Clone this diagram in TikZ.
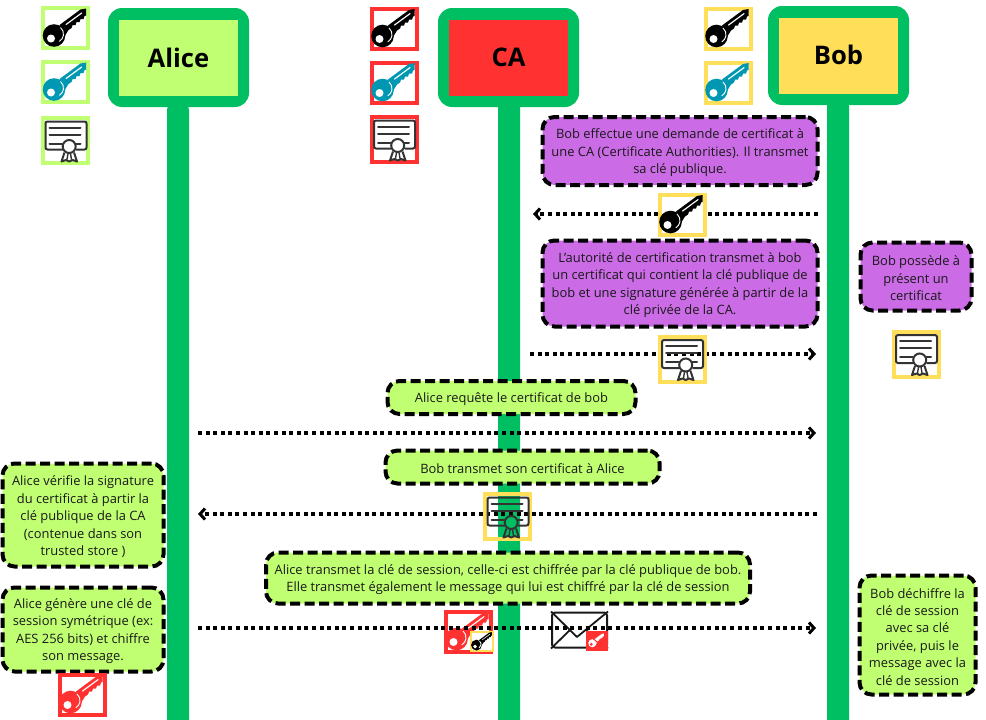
\documentclass[tikz,border=0pt]{standalone}
\usepackage{fontspec}
\setmainfont{Open Sans}
\usetikzlibrary{arrows.meta}
\definecolor{lgreen}{HTML}{00BF63}
\definecolor{lime}{HTML}{C1FF72}
\definecolor{cred}{HTML}{FF3131}
\definecolor{cyellow}{HTML}{FFDE59}
\definecolor{cpurple}{HTML}{CB6CE6}
\definecolor{cteal}{HTML}{0097B2}
\definecolor{cdark}{HTML}{333333}
\tikzset{
  lifeline/.style={draw=none,fill=lgreen,rounded corners=6pt},
  header/.style={font=\fontsize{25.6}{30}\selectfont\bfseries,inner sep=0pt,minimum width=119pt,minimum height=76pt},
  frame/.style={fill=lgreen,rounded corners=14pt},
  msg/.style={draw=black,fill=#1,line width=4pt,dash pattern=on 10pt off 4.5pt,rounded corners=12pt,inner sep=0pt},
  msgtext/.style={align=center,inner sep=0pt,text=black!90,yshift=-1.8pt,font=\fontsize{12.9}{17.4}\selectfont},
  flow/.style={line width=4pt,dash pattern=on 4pt off 3.6pt,-{Straight Barb[length=5pt,width=11pt,line width=3pt]}},
  iconbox/.style={draw=#1,line width=4pt,minimum width=45pt,minimum height=40pt,inner sep=0pt},
  pics/keyglyph/.style={code={
    \begin{scope}
    \clip (-23,-23) rectangle (23,18.6);
    \fill[#1] (-6,-3) -- (15,-18.5) -- (20.7,-19.5) -- (20.7,-12.5) -- (19,-12) -- (18,-9) -- (15,-9) -- (14,-6) -- (11,-6) -- (10,-3) -- (7,-3) -- (6,0) -- (3,2) -- (-2,10) -- cycle;
    \fill[white] (0,-3.8) -- (16,-15.6) -- (16.6,-14.6) -- (0.6,-2.8) -- cycle;
    \fill[#1] (-11.5,7.5) circle (11.3);
    \draw[white,line width=0.9pt] (-5,-0.5) arc (-50:60:8.5);
    \fill[white] (-14.5,10.5) circle (4);
    \end{scope}
  }},
  pics/certglyph/.style={code={
    \draw[cdark,line width=2pt,line cap=round,rounded corners=2pt] (-3,9) -- (-20,9) -- (-20,-19) -- (21,-19) -- (21,9) -- (11,9);
    \draw[cdark,line width=2pt,line cap=round] (-16,-13) -- (15,-13) (-16,-6) -- (15,-6) (-16,3) -- (-3.5,3) (10.5,3) -- (15,3);
    \draw[cdark,line width=2pt] (3.7,6) circle (6.5);
    \draw[cdark,line width=2pt,line join=round] (-1,12) -- (-4,21) -- (0.5,19.5) -- (3.7,21) -- (7,19.5) -- (11.5,21) -- (8.5,12);
    \draw[cdark,line width=1.4pt] (2.5,13) -- (1.5,19) (5,13) -- (6,19);
  }},
}
\begin{document}
\begin{tikzpicture}[x=1pt,y=-1pt]
\useasboundingbox (0,0) rectangle (986,720);
% lifelines
\fill[lifeline] (167,104) rectangle (189,740);
\fill[lifeline] (498,100) rectangle (520,740);
\fill[lifeline] (827,100) rectangle (849,740);
% headers
\fill[frame] (108,8) rectangle (249,107);
\fill[frame] (438,8) rectangle (579,107);
\fill[frame] (768,6) rectangle (909,105);
\node[header,fill=lime] (alice) at (178.5,57.5) {Alice};
\node[header,fill=cred] (ca) at (508.5,57.5) {CA};
\node[header,fill=cyellow] (bob) at (838.5,55.5) {\raisebox{1.5pt}{Bob}};
% messages
\node[msg=cpurple,minimum width=275pt,minimum height=68pt] (m1) at (680,151) {};
\node[msgtext] (t1) at (m1.center) {Bob effectue une demande de certificat à\\une CA (Certificate Authorities). Il transmet\\sa clé publique.};
\node[msg=cpurple,minimum width=275pt,minimum height=86pt] (m2) at (680,283.5) {};
\node[msgtext] (t2) at (m2.center) {L’autorité de certification transmet à bob\\un certificat qui contient la clé publique de\\bob et une signature générée à partir de la\\clé privée de la CA.};
\node[msg=cpurple,minimum width=111pt,minimum height=68pt] (m3) at (916,276.5) {};
\node[msgtext] (t3) at (m3.center) {Bob possède à\\présent un\\certificat};
\node[msg=lime,minimum width=248pt,minimum height=33pt] (m4) at (511.5,397.5) {};
\node[msgtext] (t4) at (m4.center) {Alice requête le certificat de bob};
\node[msg=lime,minimum width=274pt,minimum height=33pt] (m5) at (522.5,467) {};
\node[msgtext] (t5) at (m5.center) {Bob transmet son certificat à Alice};
\node[msg=lime,minimum width=161pt,minimum height=103pt] (m6) at (83,515) {};
\node[msgtext] (t6) at (m6.center) {Alice vérifie la signature\\du certificat à partir la\\clé publique de la CA\\(contenue dans son\\trusted store )};
\node[msg=lime,minimum width=484pt,minimum height=51pt] (m7) at (508,578) {};
\node[msgtext] (t7) at (m7.center) {Alice transmet la clé de session, celle-ci est chiffrée par la clé publique de bob.\\Elle transmet également le message qui lui est chiffré par la clé de session};
\node[msg=lime,minimum width=161pt,minimum height=84pt] (m8) at (83,629.5) {};
\node[msgtext] (t8) at (m8.center) {Alice génère une clé de\\session symétrique (ex:\\AES 256 bits) et chiffre\\son message.};
\node[msg=lime,minimum width=116pt,minimum height=119pt] (m9) at (917.5,635) {};
\node[msgtext] (t9) at (m9.center) {Bob déchiffre la\\clé de session\\avec sa clé\\privée, puis le\\message avec la\\clé de session};
% flow end points
\coordinate (f1a) at (818,214); \coordinate (f1b) at (533,214);
\coordinate (f2a) at (530,354); \coordinate (f2b) at (816,354);
\coordinate (f3a) at (198,433); \coordinate (f3b) at (816,433);
\coordinate (f4a) at (817,514); \coordinate (f4b) at (198,514);
\coordinate (f5a) at (198,628); \coordinate (f5b) at (816,628);
\draw[flow] (f1a) -- (f1b);
\draw[flow] (f2a) -- (f2b);
\draw[flow] (f3a) -- (f3b);
\draw[flow] (f4a) -- (f4b);
% icons: Alice
\node[iconbox=lime] (ak) at (65.5,28) {}; \pic at (65.5,28) {keyglyph=black};
\node[iconbox=lime] (ap) at (65.5,82) {}; \pic at (65.5,82) {keyglyph=cteal};
\node[iconbox=lime,minimum height=45pt] (ac) at (65.5,140.5) {}; \pic at (65.5,140.5) {certglyph};
% icons: CA
\node[iconbox=cred] (ck) at (394,28.5) {}; \pic at (394,28.5) {keyglyph=black};
\node[iconbox=cred] (cp) at (394,82.5) {}; \pic at (394,82.5) {keyglyph=cteal};
\node[iconbox=cred,minimum height=45pt] (cc) at (394,139.5) {}; \pic at (394,139.5) {certglyph};
% icons: Bob
\node[iconbox=cyellow] (bk) at (728,28.5) {}; \pic at (728,28.5) {keyglyph=black};
\node[iconbox=cyellow] (bp) at (728,82.5) {}; \pic at (728,82.5) {keyglyph=cteal};
% icons on flows
\node[iconbox=cyellow,fill=white] (fk) at (682,214.5) {}; \pic at (682,214.5) {keyglyph=black};
\node[iconbox=cyellow,minimum height=45pt] (fc) at (682,359) {}; \pic at (682,359) {certglyph};
\node[iconbox=cyellow,minimum height=45pt] (bc) at (916,354) {}; \pic at (916,354) {certglyph};
\node[iconbox=cyellow,minimum height=45pt] (tc) at (507.5,516.5) {}; \pic at (507.5,516.5) {certglyph};
% session key at Alice
\node[iconbox=cred] (sk) at (82,694.5) {}; \pic at (82,694.5) {keyglyph=cred};
% session key on flow
\node[iconbox=cred,fill=white] (fs) at (468,631.5) {}; \pic at (468,631.5) {keyglyph=cred};
% envelope
\node[draw=black!90,fill=white,line width=2pt,rounded corners=3pt,minimum width=55pt,minimum height=35pt,inner sep=0pt] (env) at (579.5,630) {};
\draw[black!90,line width=1.8pt,line join=round] (env.north west) -- (577,637) -- (env.north east);
\draw[black!90,line width=1.8pt] (env.south west) -- (570,630) (env.south east) -- (586,630);
\draw[flow] (f5a) -- (f5b);
\node[draw=cyellow,fill=white,line width=2.5pt,minimum width=22pt,minimum height=19pt,inner sep=0pt] (fy) at (482,641.5) {};
\pic[scale=0.48] at (482,641.5) {keyglyph=black};
\node[fill=cred,minimum width=22pt,minimum height=20pt,inner sep=0pt] (es) at (596.5,640.5) {};
\pic[scale=0.36] at (596.5,640.5) {keyglyph=white};
\fill[cred] (591.3,644.3) circle (1.6);
\draw[cred,line width=1pt] (589,635) -- (604,648);
\end{tikzpicture}
\end{document}
